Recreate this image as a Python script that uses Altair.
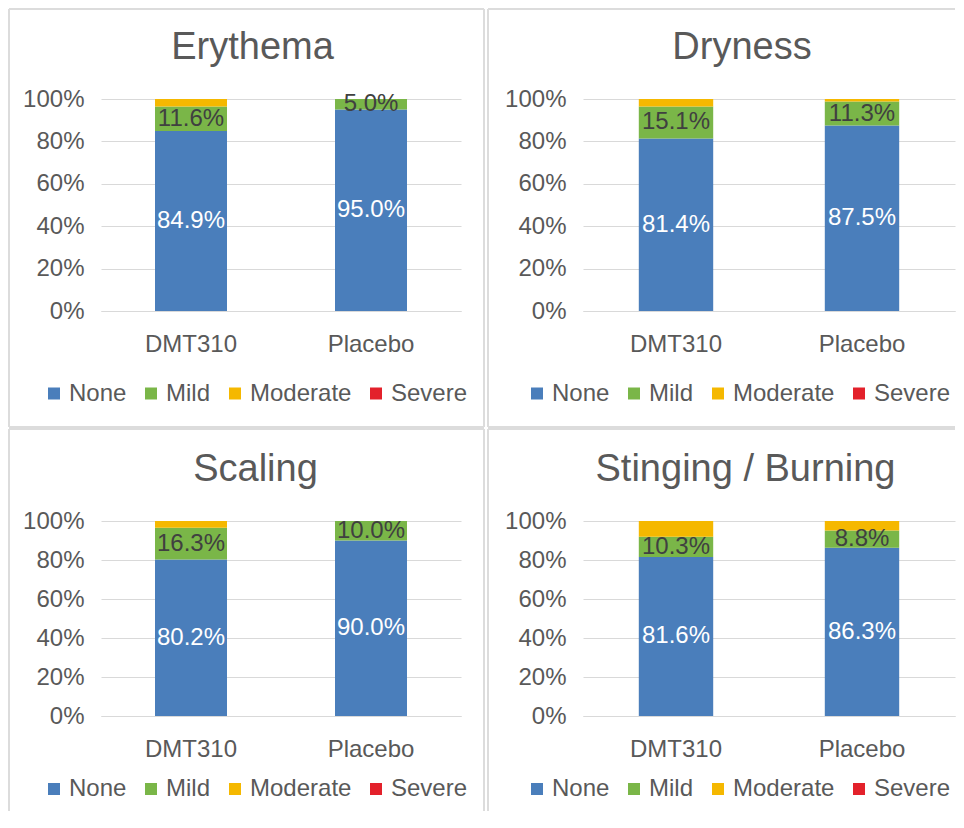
import altair as alt
import pandas as pd

FONT = "Liberation Sans"
TEXT_GRAY = "#595959"
GRID = "#D9D9D9"
FRAME = "#DCDCDC"

# ---- data ----
panel_titles = ["Erythema", "Dryness", "Scaling", "Stinging / Burning"]
groups = ["DMT310", "Placebo"]
severities = ["None", "Mild", "Moderate", "Severe"]
sev_colors = ["#4a7ebb", "#7ab648", "#f5b800", "#e3212b"]

# percentages: [None, Mild, Moderate, Severe]
erythema_dmt310 = [84.9, 11.6, 3.5, 0.0]
erythema_placebo = [95.0, 5.0, 0.0, 0.0]
dryness_dmt310 = [81.4, 15.1, 3.5, 0.0]
dryness_placebo = [87.5, 11.3, 1.2, 0.0]
scaling_dmt310 = [80.2, 16.3, 3.5, 0.0]
scaling_placebo = [90.0, 10.0, 0.0, 0.0]
stinging_dmt310 = [81.6, 10.3, 8.1, 0.0]
stinging_placebo = [86.3, 8.8, 4.9, 0.0]

panel_values = [
    (erythema_dmt310, erythema_placebo),
    (dryness_dmt310, dryness_placebo),
    (scaling_dmt310, scaling_placebo),
    (stinging_dmt310, stinging_placebo),
]

y_ticks = [0, 20, 40, 60, 80, 100]

# ---- layout (pixels, relative to each plot area) ----
layout = [
    dict(W=360, H=212, tx=151.5, ty=-40, lx=-59, ly=70.5,
         frame=[("v", -92, -90, 328), ("h", -90, -92, 383), ("v", 383, -90, 328), ("h", 328, -92, 383)]),
    dict(W=372, H=212, tx=159, ty=-40, lx=-58, ly=70.5,
         frame=[("v", -95, -90, 328), ("h", -90, -95, 372), ("h", 328, -95, 372)]),
    dict(W=360, H=195, tx=154.5, ty=-40, lx=-59, ly=61,
         frame=[("v", -92, -92, 290), ("h", -92, -92, 383), ("v", 383, -92, 290)]),
    dict(W=372, H=195, tx=162.5, ty=-40, lx=-58, ly=61,
         frame=[("v", -95, -92, 290), ("h", -92, -95, 372)]),
]


def frame_layers(segments):
    out = []
    for kind, pos, a, b in segments:
        base = alt.Chart(alt.Data(values=[{"k": 1}])).mark_rule(
            color=FRAME, strokeWidth=2
        )
        if kind == "v":
            enc = dict(x=alt.value(pos), y=alt.value(a), y2=alt.value(b))
        else:
            enc = dict(y=alt.value(pos), x=alt.value(a), x2=alt.value(b))
        out.append(base.encode(**enc))
    return out


def make_panel(i):
    L = layout[i]
    W, H = L["W"], L["H"]
    rows = []
    for g, vals in zip(groups, panel_values[i]):
        for k, (s, v) in enumerate(zip(severities, vals)):
            rows.append({"group": g, "sev": s, "order": k, "pct": v})
    df = pd.DataFrame(rows)

    base = (
        alt.Chart(df)
        .transform_stack(
            stack="pct",
            groupby=["group"],
            as_=["y0", "y1"],
            sort=[alt.SortField("order", order="ascending")],
        )
        .transform_calculate(
            mid="(datum.y0 + datum.y1) / 2",
            label="format(datum.pct, '.1f') + '%'",
        )
    )

    x_axis = alt.Axis(
        title=None, labelAngle=0, ticks=False, labelPadding=21,
        labelFontSize=24, labelFont=FONT, labelColor=TEXT_GRAY,
        domainColor=GRID, domainWidth=1, grid=False,
    )
    y_axis = alt.Axis(
        title=None, values=y_ticks, labelExpr="datum.value + '%'",
        ticks=False, labelPadding=17, domain=False,
        labelFontSize=24, labelFont=FONT, labelColor=TEXT_GRAY,
        grid=True, gridColor=GRID, gridWidth=1,
    )
    xs = alt.Scale(paddingInner=0.6, paddingOuter=0.3)
    ys = alt.Scale(domain=[0, 100], nice=False)

    bars = base.mark_bar().encode(
        x=alt.X("group:N", sort=groups, scale=xs, axis=x_axis),
        y=alt.Y("y0:Q", scale=ys, axis=y_axis),
        y2="y1:Q",
        color=alt.Color(
            "sev:N",
            scale=alt.Scale(domain=severities, range=sev_colors),
            legend=alt.Legend(
                orient="none", legendX=L["lx"], legendY=H + L["ly"],
                direction="horizontal", title=None,
                symbolType="square", symbolSize=144, symbolStrokeWidth=0,
                labelFontSize=24, labelFont=FONT, labelColor=TEXT_GRAY,
                labelOffset=3, columnPadding=12, padding=0,
            ),
        ),
    )

    labels = (
        base.transform_filter("datum.sev == 'None' || datum.sev == 'Mild'")
        .mark_text(fontSize=24, font=FONT, baseline="middle")
        .encode(
            x=alt.X("group:N", sort=groups, scale=xs, axis=x_axis),
            y=alt.Y("mid:Q", scale=ys, axis=y_axis),
            text="label:N",
            color=alt.condition(
                "datum.sev == 'None'", alt.value("#ffffff"), alt.value("#404040")
            ),
        )
    )

    title = (
        alt.Chart(alt.Data(values=[{"t": panel_titles[i]}]))
        .mark_text(fontSize=38, font=FONT, color=TEXT_GRAY,
                   baseline="alphabetic", align="center")
        .encode(x=alt.value(L["tx"]), y=alt.value(L["ty"]), text="t:N")
    )

    return alt.layer(*frame_layers(L["frame"]), bars, labels, title).properties(
        width=W, height=H
    )


p = [make_panel(i) for i in range(4)]
row1 = alt.hconcat(p[0], p[1], spacing=2).resolve_scale(color="independent").resolve_legend(color="independent")
row2 = alt.hconcat(p[2], p[3], spacing=2).resolve_scale(color="independent").resolve_legend(color="independent")
chart = (
    alt.vconcat(row1, row2, spacing=0)
    .resolve_scale(color="independent")
    .resolve_legend(color="independent")
    .properties(padding=0, background="white")
    .configure_view(strokeWidth=0)
)

chart.save("out.html", embed_options={"renderer": "svg", "actions": False})
